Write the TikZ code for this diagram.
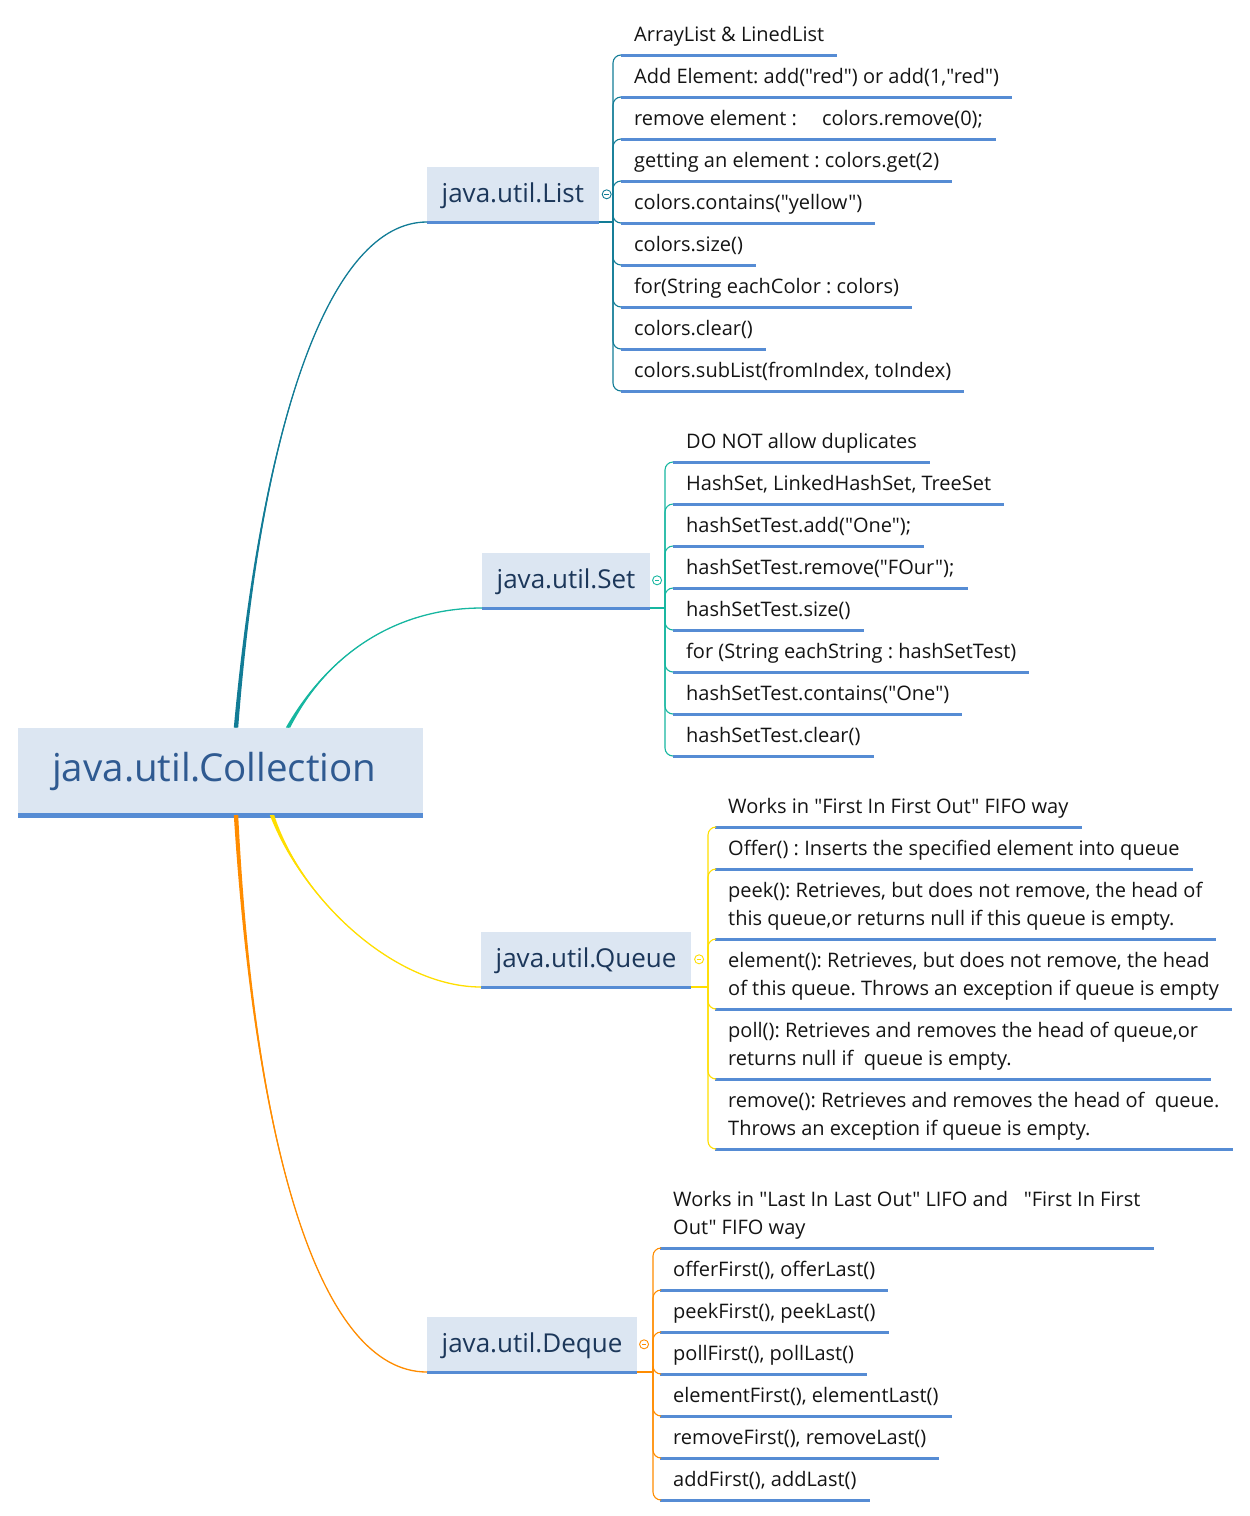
\documentclass[tikz,border=0pt]{standalone}
\usepackage{fontspec}
\setmainfont{Open Sans}[Ligatures=TeXOff]
\usepackage{tikz}
\frenchspacing

\definecolor{listc}{RGB}{18,124,150}
\definecolor{setc}{RGB}{22,182,160}
\definecolor{queuec}{RGB}{255,222,0}
\definecolor{dequec}{RGB}{255,140,0}
\definecolor{boxfill}{RGB}{220,230,242}
\definecolor{uline}{RGB}{86,140,212}
\definecolor{roottext}{RGB}{47,90,145}
\definecolor{topictext}{RGB}{28,55,90}
\definecolor{itemtext}{RGB}{20,20,20}

\tikzset{
  ulinepath/.style={draw=uline,line width=3},
  root/.style={anchor=south west,fill=boxfill,text=roottext,inner xsep=34,text width=337,align=left,
    minimum height=87,font=\fontsize{38.5}{44}\selectfont,text height=28,text depth=8,
    append after command={(\tikzlastnode.south west) edge[ulinepath,line width=5] (\tikzlastnode.south east)}},
  topic/.style={anchor=south west,fill=boxfill,text=topictext,inner xsep=14.5,minimum height=55,
    font=\fontsize{26}{30}\selectfont,text height=20,text depth=4,
    append after command={(\tikzlastnode.south west) edge[ulinepath] (\tikzlastnode.south east)}},
  item/.style={anchor=south west,inner xsep=13,inner ysep=13,text depth=0pt,align=left,
    text=itemtext,font=\fontsize{20}{28}\selectfont,
    append after command={(\tikzlastnode.south west) edge[ulinepath] (\tikzlastnode.south east)}},
  conn/.style={draw=#1,line width=1.1,rounded corners=8,to path={|- (\tikztotarget)}},
  fold/.style={circle,draw=#1,line width=0.9,minimum size=9,inner sep=0,
    path picture={\draw[#1,line width=0.9] ([xshift=-2.3]path picture bounding box.center)
      -- ([xshift=2.3]path picture bounding box.center);}}
}

% tapered main branch: colour, root anchor, xshift, control 1, control 2, target
\newcommand{\limb}[6]{%
  \fill[#1] ([xshift=#3-2.2]#2) .. controls (#4) and (#5) .. (#6)
    .. controls (#5) and (#4) .. ([xshift=#3+2.2]#2) -- cycle;
  \draw[#1,line width=1.3] ([xshift=#3]#2) .. controls (#4) and (#5) .. (#6);}

\begin{document}
\begin{tikzpicture}[x=1pt,y=-1pt]
\useasboundingbox (0,0) rectangle (1250,1516);

% topics
\node[root] (coll) at (18,815) {java.util.Collection};
\node[topic] (list) at (427,222) {java.util.List};
\node[topic] (set) at (482,608) {java.util.Set};
\node[topic] (queue) at (481,987) {java.util.Queue};
\node[topic] (deque) at (427,1372) {java.util.Deque};

% main branches
\limb{listc}{coll.north west}{218}{262,420}{330,222}{list.south west}
\limb{setc}{coll.north west}{270}{330,650}{400,608}{set.south west}
\limb{queuec}{coll.south west}{254}{302,900}{395,987}{queue.south west}
\limb{dequec}{coll.south west}{218}{255,1150}{320,1372}{deque.south west}

\node[fold=listc] (lf) at ([xshift=8]list.east) {};
\node[fold=setc] (sf) at ([xshift=7]set.east) {};
\node[fold=queuec] (qf) at ([xshift=8]queue.east) {};
\node[fold=dequec] (df) at ([xshift=7]deque.east) {};

% java.util.List
\coordinate (lj) at (613,222);
\node[item] (l1) at (621,55) {ArrayList \& LinedList};
\node[item] (l2) at (621,97) {Add Element: add("red") or add(1,"red")};
\node[item] (l3) at (621,139) {remove element :\hspace{1.25em}colors.remove(0);};
\node[item] (l4) at (621,181) {getting an element : colors.get(2)};
\node[item] (l5) at (621,223) {colors.contains("yellow")};
\node[item] (l6) at (621,265) {colors.size()};
\node[item] (l7) at (621,307) {for(String eachColor : colors)};
\node[item] (l8) at (621,349) {colors.clear()};
\node[item] (l9) at (621,391) {colors.subList(fromIndex, toIndex)};
\draw[listc,line width=1.1] (list.south east) -- (lj);
\path[conn=listc] (lj) edge (l1.south west) edge (l2.south west) edge (l3.south west)
  edge (l4.south west) edge (l5.south west) edge (l6.south west)
  edge (l7.south west) edge (l8.south west) edge (l9.south west);

% java.util.Set
\coordinate (sj) at (665,608);
\node[item] (s1) at (673,462) {DO NOT allow duplicates};
\node[item] (s2) at (673,504) {HashSet, LinkedHashSet, TreeSet};
\node[item] (s3) at (673,546) {hashSetTest.add("One");};
\node[item] (s4) at (673,588) {hashSetTest.remove("FOur");};
\node[item] (s5) at (673,630) {hashSetTest.size()};
\node[item] (s6) at (673,672) {for (String eachString : hashSetTest)};
\node[item] (s7) at (673,714) {hashSetTest.contains("One")};
\node[item] (s8) at (673,756) {hashSetTest.clear()};
\draw[setc,line width=1.1] (set.south east) -- (sj);
\path[conn=setc] (sj) edge (s1.south west) edge (s2.south west) edge (s3.south west)
  edge (s4.south west) edge (s5.south west) edge (s6.south west)
  edge (s7.south west) edge (s8.south west);

% java.util.Queue
\coordinate (qj) at (708,987);
\node[item] (q1) at (715,827) {Works in "First In First Out" FIFO way};
\node[item] (q2) at (715,869) {Offer() : Inserts the specified element into queue};
\node[item] (q3) at (715,939) {peek(): Retrieves, but does not remove, the head of\\this queue,or returns null if this queue is empty.};
\node[item] (q4) at (715,1009) {element(): Retrieves, but does not remove, the head\\of this queue. Throws an exception if queue is empty};
\node[item] (q5) at (715,1079) {poll(): Retrieves and removes the head of queue,or\\returns null if\ \ queue is empty.};
\node[item] (q6) at (715,1149) {remove(): Retrieves and removes the head of\ \ queue.\\Throws an exception if queue is empty.};
\draw[queuec,line width=1.1] (queue.south east) -- (qj);
\path[conn=queuec] (qj) edge (q1.south west) edge (q2.south west) edge (q3.south west)
  edge (q4.south west) edge (q5.south west) edge (q6.south west);

% java.util.Deque
\coordinate (dj) at (653,1372);
\node[item] (d1) at (660,1248) {Works in "Last In Last Out" LIFO and\ \ \ "First In First\\Out" FIFO way};
\node[item] (d2) at (660,1290) {offerFirst(), offerLast()};
\node[item] (d3) at (660,1332) {peekFirst(), peekLast()};
\node[item] (d4) at (660,1374) {pollFirst(), pollLast()};
\node[item] (d5) at (660,1416) {elementFirst(), elementLast()};
\node[item] (d6) at (660,1458) {removeFirst(), removeLast()};
\node[item] (d7) at (660,1500) {addFirst(), addLast()};
\draw[dequec,line width=1.1] (deque.south east) -- (dj);
\path[conn=dequec] (dj) edge (d1.south west) edge (d2.south west) edge (d3.south west)
  edge (d4.south west) edge (d5.south west) edge (d6.south west) edge (d7.south west);
\end{tikzpicture}
\end{document}
